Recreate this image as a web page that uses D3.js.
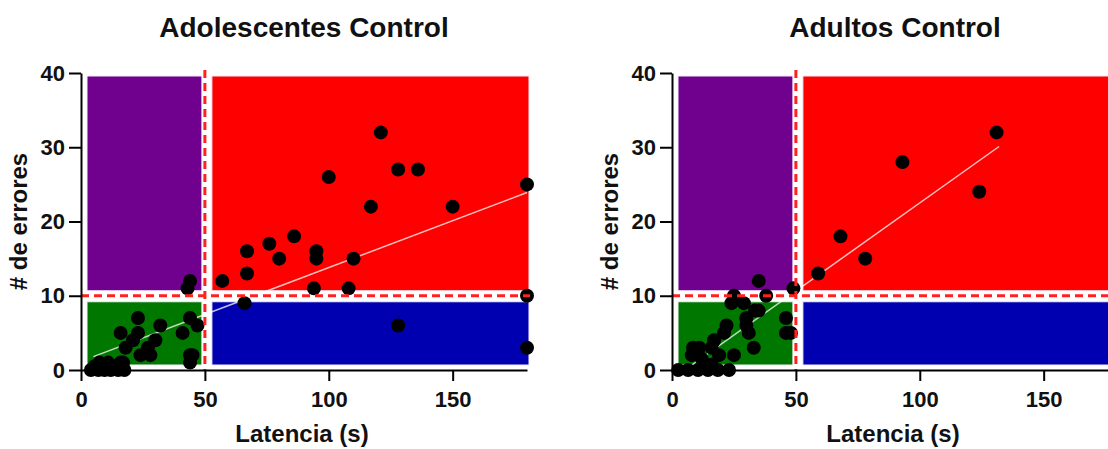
<!DOCTYPE html>
<html>
<head>
<meta charset="utf-8">
<title>Latencia vs errores</title>
<script src="https://d3js.org/d3.v7.min.js"></script>
<style>
  body { margin: 0; background: #fff; }
  svg { display: block; font-family: "Liberation Sans", Arial, sans-serif; font-weight: bold; }
  .axis path, .axis line { stroke: #000; stroke-width: 2px; }
  .axis text { font-size: 22px; font-weight: bold; fill: #111; font-family: "Liberation Sans", Arial, sans-serif; }
</style>
</head>
<body>
<svg id="chart" width="1108" height="449"></svg>
<script>
// ---- data ----
const titles = ["Adolescentes Control", "Adultos Control"];
const xTicks = [0, 50, 100, 150];
const yTicks = [0, 10, 20, 30, 40];
const xCut = 50, yCut = 10;

const adolX = [121,128,136,100,180,117,150,86,76,67,95,80,95,110,67,57,94,108,180,66,128,180,
  44,43,23,44,47,32,16,23,41,21,30,27,18,24,28,44,45,44,17,16,7.5,11,5.5,4,7,9.5,12,15,17.5];
const adolY = [32,27,27,26,25,22,22,18,17,16,16,15,15,15,13,12,11,11,10,9,6,3,
  12,11,7,7,6,6,5,5,5,4,4,3,3,2,2,2,2,1,1,1,1,1,0.5,0,0,0,0,0,0];

const adultX = [131,93,124,68,78,59,49,46,46,48,
  35,25,38,24,29,33.5,35,30,30,22,31,21,17,33,16,8.5,11,25,19,8,12,2.5,6.5,10.5,14.5,18.5,23,16];
const adultY = [32,28,24,18,15,13,11,7,5,5,
  12,10,10,9,9,8,8,7,6,6,5,5,4,3,3,3,3,2,2,2,1.5,0,0,0,0,0,0,0.7];

// regression line end points
const adolFit = [[5, 1.8], [180, 23.9]];
const adultFit = [[6, 0.2], [132, 30.1]];

const quadrants = [
  { x: [0, 50],   y: [10, 40], color: "#70008e" },
  { x: [0, 50],   y: [0, 10],  color: "#007800" },
  { x: [50, 180], y: [10, 40], color: "#ff0000" },
  { x: [50, 180], y: [0, 10],  color: "#0000b0" }
];

const panels = [
  { title: titles[0], xs: adolX, ys: adolY, fit: adolFit, left: 81 },
  { title: titles[1], xs: adultX, ys: adultY, fit: adultFit, left: 672 }
];

const plotW = 446, plotTop = 73, plotBottom = 370;
const svg = d3.select("#chart");

panels.forEach(p => {
  const x = d3.scaleLinear().domain([0, 180]).range([p.left, p.left + plotW]);
  const y = d3.scaleLinear().domain([0, 40]).range([plotBottom, plotTop]);
  const g = svg.append("g");

  // quadrant blocks
  g.selectAll("rect.q").data(quadrants).enter().append("rect")
    .attr("class", "q")
    .attr("x", d => d.x[0] === 0 ? x(d.x[0]) + 6 : x(d.x[0]) + 7)
    .attr("width", d => d.x[0] === 0 ? (x(d.x[1]) - 3) - (x(d.x[0]) + 6) : (x(d.x[1]) + 2) - (x(d.x[0]) + 7))
    .attr("y", d => d.y[1] === 40 ? y(d.y[1]) + 3 : y(d.y[1]) + 6)
    .attr("height", d => d.y[1] === 40 ? (y(d.y[0]) - 5) - (y(d.y[1]) + 3) : (y(d.y[0]) - 5) - (y(d.y[1]) + 6))
    .attr("fill", d => d.color)
    .attr("stroke", "#f4eefa")
    .attr("stroke-width", 1);

  // regression line
  g.append("line")
    .attr("x1", x(p.fit[0][0])).attr("y1", y(p.fit[0][1]))
    .attr("x2", x(p.fit[1][0])).attr("y2", y(p.fit[1][1]))
    .attr("stroke", "#fff").attr("stroke-opacity", 0.75).attr("stroke-width", 1.5);

  // points
  g.selectAll("circle").data(p.xs.map((v, i) => [v, p.ys[i]])).enter().append("circle")
    .attr("cx", d => x(d[0])).attr("cy", d => y(d[1]))
    .attr("r", 7).attr("fill", "#000");

  // dashed cut lines
  g.append("line")
    .attr("x1", x(0)).attr("x2", x(180) + 3)
    .attr("y1", y(yCut)).attr("y2", y(yCut))
    .attr("stroke", "#ff2020").attr("stroke-width", 3).attr("stroke-dasharray", "8,5");
  g.append("line")
    .attr("x1", x(xCut)).attr("x2", x(xCut))
    .attr("y1", plotTop - 3).attr("y2", plotBottom)
    .attr("stroke", "#ff2020").attr("stroke-width", 3).attr("stroke-dasharray", "8,5");

  // axes
  g.append("g").attr("class", "axis")
    .attr("transform", `translate(0,${plotBottom})`)
    .call(d3.axisBottom(x).tickValues(xTicks).tickSize(11).tickSizeOuter(0).tickPadding(10));
  g.append("g").attr("class", "axis")
    .attr("transform", `translate(${p.left},0)`)
    .call(d3.axisLeft(y).tickValues(yTicks).tickSize(12).tickSizeOuter(0).tickPadding(4));

  // titles
  g.append("text")
    .attr("x", p.left + plotW / 2).attr("y", 37)
    .attr("text-anchor", "middle").attr("font-size", 28).attr("fill", "#111")
    .text(p.title);
  g.append("text")
    .attr("x", p.left + plotW / 2 - 2).attr("y", 442)
    .attr("text-anchor", "middle").attr("font-size", 24).attr("fill", "#111")
    .text("Latencia (s)");
  g.append("text")
    .attr("transform", `translate(${p.left - 54},${(plotTop + plotBottom) / 2}) rotate(-90)`)
    .attr("text-anchor", "middle").attr("font-size", 24).attr("fill", "#111")
    .text("# de errores");
});
</script>
</body>
</html>
